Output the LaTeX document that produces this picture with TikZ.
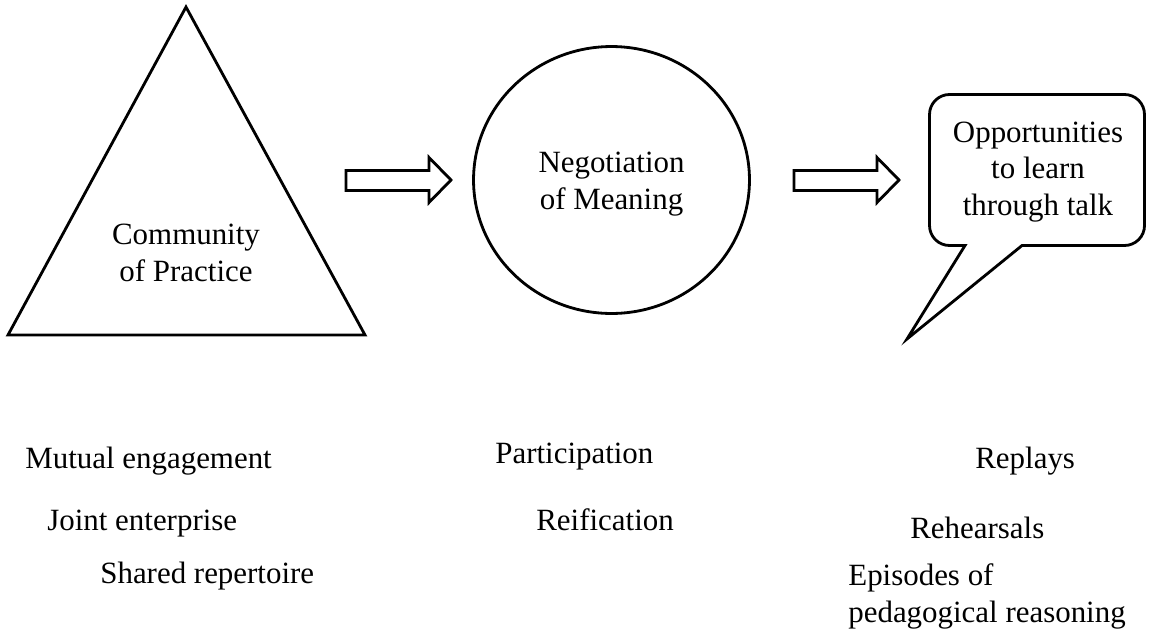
\documentclass[tikz,border=0pt]{standalone}
\usepackage{fontspec}
\setmainfont{Liberation Serif}
\usetikzlibrary{positioning}
\tikzset{outline/.style={draw, line width=1.6pt},
  txt/.style={inner sep=0pt, align=center, font=\fontsize{17.6}{21}\selectfont},
  item/.style={inner sep=0pt, anchor=base west, font=\fontsize{17.6}{21}\selectfont}}

\begin{document}
\begin{tikzpicture}[x=0.02cm, y=-0.02cm]

  \useasboundingbox (0,0) rectangle (1149,629);

  % community of practice
  \coordinate (Ttop) at (186,7);
  \coordinate (Tright) at (365,335);
  \coordinate (Tleft) at (8,335);
  \draw [outline] (Ttop) -- (Tright) -- (Tleft) -- cycle;
  \node (cop) [txt] at (186,253) {Community\\of Practice};

  % block arrows
  \draw [outline] (346,170.5) -- (429,170.5) -- (429,157.5) -- (451,180)
        -- (429,202.5) -- (429,190.5) -- (346,190.5) -- cycle;
  \draw [outline] (794,170.5) -- (877,170.5) -- (877,157.5) -- (899,180)
        -- (877,202.5) -- (877,190.5) -- (794,190.5) -- cycle;

  % negotiation of meaning
  \draw [outline] (611.5,180) ellipse [x radius=2.76cm, y radius=2.67cm];
  \node (nom) [txt] at (611.5,184) {Negotiation\\of Meaning};

  % speech bubble
  \coordinate (tip) at (907,339);
  \draw [outline] (965,245.5) -- (949.5,245.5) arc[start angle=270, end angle=180, radius=0.4cm]
        -- (929.5,114.5) arc[start angle=180, end angle=90, radius=0.4cm]
        -- (1124.5,94.5) arc[start angle=90, end angle=0, radius=0.4cm]
        -- (1144.5,225.5) arc[start angle=0, end angle=-90, radius=0.4cm]
        -- (1022,245.5) -- (tip) -- cycle;
  \node (talk) [txt] at (1038,172) {Opportunities\\to learn\\through talk};

  % lists
  \node (mutual) [item] at (25,468) {Mutual engagement};
  \node (joint) [item] at (47,530) {Joint enterprise};
  \node (shared) [item] at (100,583) {Shared repertoire};

  \node (particip) [item] at (495,463) {Participation};
  \node (reific) [item] at (536,530) {Reification};

  \node (replays) [item] at (975,468) {Replays};
  \node (rehears) [item] at (910,538) {Rehearsals};
  \node (episodes) [item, anchor=north west, align=left] at (848,563) {Episodes of\\pedagogical reasoning};

\end{tikzpicture}
\end{document}
